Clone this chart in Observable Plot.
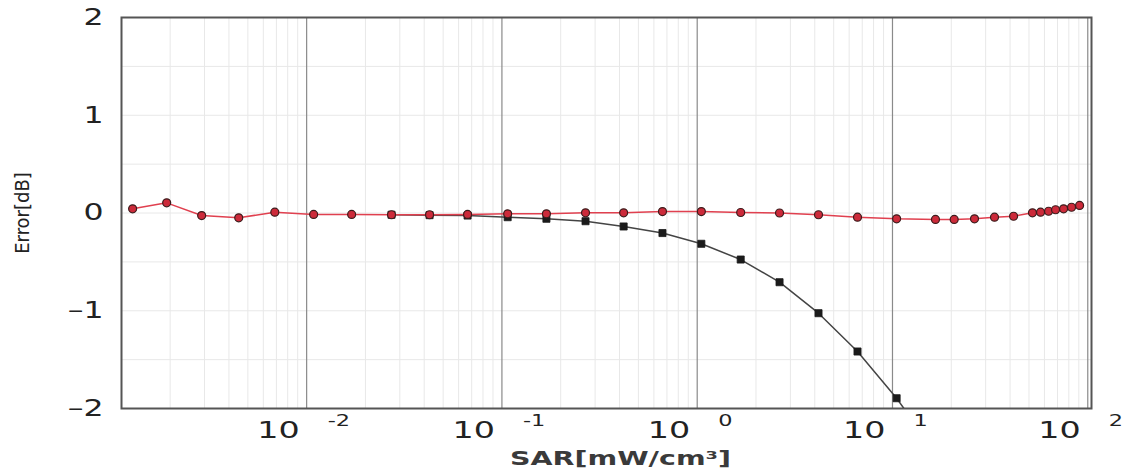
<!DOCTYPE html>
<html><head><meta charset="utf-8">
<script src="https://cdn.jsdelivr.net/npm/d3@7"></script>
<script src="https://cdn.jsdelivr.net/npm/@observablehq/plot@0.6"></script>
<style>body{margin:0;background:#fff}</style>
</head><body><div id="chart"></div>
<script>
// Red series (circles)
const sarRed = [0.001285,0.00192,0.0029,0.00449,0.00687,0.01086,0.0170,0.0272,0.0426,0.0667,0.107,0.169,0.268,0.420,0.664,1.05,1.67,2.64,4.18,6.62,10.5,16.6,20.7,26.3,33.3,41.7,52.1,57.3,63.0,68.4,75.2,82.6,90.8];
const errRed = [0.043,0.104,-0.026,-0.049,0.008,-0.015,-0.015,-0.018,-0.018,-0.015,-0.008,-0.008,0.002,0.002,0.015,0.015,0.005,0.0,-0.018,-0.043,-0.06,-0.066,-0.066,-0.06,-0.043,-0.033,0.002,0.008,0.018,0.033,0.043,0.059,0.077];
// Black series (squares)
const sarBlack = [0.0272,0.0426,0.0667,0.107,0.169,0.268,0.420,0.664,1.05,1.67,2.64,4.18,6.62,10.5,16.6];
const errBlack = [-0.018,-0.022,-0.026,-0.043,-0.059,-0.084,-0.138,-0.205,-0.315,-0.476,-0.708,-1.025,-1.417,-1.895,-2.45];
// Axis ticks
const xMajor = [0.01,0.1,1,10,100];
const xExponents = ["-2","-1","0","1","2"];
const xMinor = [0.002,0.003,0.004,0.005,0.006,0.007,0.008,0.009,
  0.02,0.03,0.04,0.05,0.06,0.07,0.08,0.09,
  0.2,0.3,0.4,0.5,0.6,0.7,0.8,0.9,
  2,3,4,5,6,7,8,9,
  20,30,40,50,60,70,80,90];
const yTicks = [-2,-1,0,1,2];
const yGrid = [-1.5,-1,-0.5,0,0.5,1,1.5];

const red = sarRed.map((x,i)=>({x, y: errRed[i]}));
const black = sarBlack.map((x,i)=>({x, y: errBlack[i]}));

const chart = Plot.plot({
  width: 1131, height: 470,
  marginLeft: 121, marginRight: 40, marginTop: 17, marginBottom: 62,
  x: {type: "log", domain: [0.001127, 104.5], axis: null},
  y: {domain: [-2, 2]},
  style: {background: "#fff", fontFamily: "DejaVu Sans, sans-serif"},
  marks: [
    Plot.ruleX(xMinor, {stroke: "#e8e8e8", strokeWidth: 1}),
    Plot.ruleY(yGrid, {stroke: "#e8e8e8", strokeWidth: 1}),
    Plot.ruleX(xMajor, {stroke: "#8a8a8a", strokeWidth: 1.2}),
    Plot.frame({stroke: "#555", strokeWidth: 2}),
    Plot.axisY(yTicks, {tickSize: 0, tickPadding: 18, fontSize: 23, fill: "#222", label: null,
      tickFormat: d => d < 0 ? "\u2013" + (-d) : String(d)}),
    Plot.line(black, {x: "x", y: "y", stroke: "#444", strokeWidth: 1.5, clip: true}),
    Plot.dot(black, {x: "x", y: "y", symbol: "square", r: 4, fill: "#1b1b1b", stroke: "#1b1b1b", strokeWidth: 0.8, clip: true}),
    Plot.line(red, {x: "x", y: "y", stroke: "#e0404f", strokeWidth: 1.5}),
    Plot.dot(red, {x: "x", y: "y", r: 4, fill: "#cc2a3a", stroke: "#3b1c1c", strokeWidth: 1.2}),
    Plot.text(xMajor, {x: d => d, text: () => "10", frameAnchor: "bottom", lineAnchor: "middle", dy: 22, dx: -7,
      textAnchor: "end", fontSize: 23, fill: "#222"}),
    Plot.text(xMajor, {x: d => d, text: (d, i) => xExponents[i], frameAnchor: "bottom", lineAnchor: "middle", dy: 12, dx: 21,
      textAnchor: "start", fontSize: 16, fill: "#222"}),
    Plot.text(["SAR[mW/cm³]"], {text: d => d, frameAnchor: "bottom", lineAnchor: "middle", textAnchor: "middle", dy: 50, dx: 14,
      fontSize: 19, fontWeight: "bold", fill: "#3a3a3a"}),
    Plot.text(["Error[dB]"], {text: d => d, frameAnchor: "left", lineAnchor: "middle", textAnchor: "middle", dx: -99, rotate: -90,
      fontSize: 20, fill: "#222", fontFamily: "Liberation Sans Narrow, DejaVu Sans Condensed, sans-serif"})
  ]
});

// Horizontal stretch of text to mimic the wide original lettering
function stretchText(t, s) {
  const x = +t.getAttribute("x") || 0, y = +t.getAttribute("y") || 0;
  const tr = t.getAttribute("transform") || "";
  t.setAttribute("transform", `${tr} translate(${x},${y}) scale(${s},1) translate(${-x},${-y})`);
}
chart.querySelectorAll("g").forEach(g => {
  const texts = Array.from(g.children).filter(c => c.tagName === "text");
  if (!texts.length) return;
  const contents = texts.map(t => t.textContent);
  let s = null;
  if (contents.includes("10")) s = 1.45;
  else if (contents.includes("-2")) s = 1.4;
  else if (contents.includes("SAR[mW/cm³]")) s = 1.5;
  else if (contents.includes("\u20132")) s = 1.37;
  if (s) texts.forEach(t => stretchText(t, s));
});

document.getElementById("chart").append(chart);
</script>
</body></html>
